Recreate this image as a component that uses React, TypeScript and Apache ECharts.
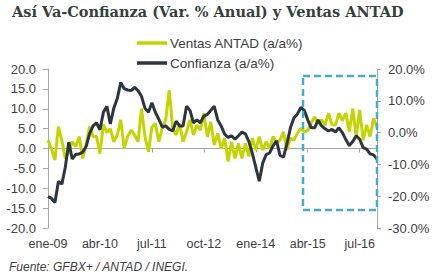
import React, { useEffect, useRef } from "react";
import * as echarts from "echarts";

const monthNames = ["ene", "feb", "mar", "abr", "may", "jun", "jul", "ago", "sep", "oct", "nov", "dic"];
const years = ["09", "10", "11", "12", "13", "14", "15", "16"];
const categories: string[] = [];
years.forEach((y) => monthNames.forEach((m) => categories.push(`${m}-${y}`)));

// Ventas ANTAD (a/a%), left axis
const ventas = [
  2.1, 0, -2.9, 5.5, 2, -2.5, -1, 1.7, 0.5, 3, -2.5, 1,
  5.5, 3, 3, -1.3, 6, 4, 5, 1.7, 3.4, 7.2, 0, 3,
  4.6, 3.4, 1.7, 10, 3, -0.8, 5.4, 6.3, 1.7, 5.1, 7.2, 14.7,
  5.1, 3.4, 6.3, 1.7, 4.2, 7.2, 3.4, 5.9, 4.6, 8.9, 3, 6.7,
  0.9, 3.8, 0, 2.6, -3.3, 1.7, -2.5, 1.3, -2.5, 1.3, -2, 2.6,
  -0.4, 3, -0.4, 1.7, 0, 3, 1.5, 2.1, 4.2, -0.4, 2.6, 2.1,
  3.8, 5.1, 4.2, 4.5, 6.5, 8, 6.3, 7.2, 5.9, 8.9, 6, 5.9,
  8.9, 7, 8.9, 4.2, 10.1, 3, 9.7, 2.1, 5.9, 3, 7.6, 5.5,
];

// Confianza (a/a%), right axis
const confianza = [
  -20.1, -20.7, -22.0, -15.4, -16.2, -10.9, -3.0, -8.3, -6.9, -6.7, -6.2, -4.4,
  -0.4, 2.1, 3.1, 0.9, 6.4, 8.3, 2.7, 7.7, 10.7, 15.8, 13.8, 13.4,
  13.2, 14.2, 13.2, 11.4, 7.7, 6.4, 9.4, 6.4, 4.2, 1.7, 2.1, 1.0,
  0.5, 3.6, 2.1, 2.1, 8.3, 7.0, 3.1, 4.0, 3.1, 5.2, 5.7, 7.0,
  8.3, 4.0, 2.1, -0.5, -1.5, -1.0, -2.1, -1.0, 0.2, -0.4, -2.8, -6.5,
  -10.9, -15.3, -9.6, -6.9, -6.4, -4.1, -2.6, -7.2, -7.7, -3.5, 1.5, 4.6,
  5.8, 7.9, 7.0, 4.0, 1.5, 1.5, 4.0, 2.1, 1.2, 0.5, 1.0, 0.2,
  1.5, 0.0, -2.2, -4.1, -2.8, -1.0, -2.1, -4.7, -5.2, -6.7, -7.0, -8.3,
];

const leftTicks = { min: -20, max: 20, interval: 5 };
const rightTicks = { min: -30, max: 20, interval: 10 };

const TITLE = "Así Va-Confianza (Var. % Anual) y Ventas ANTAD";
const SOURCE = "Fuente: GFBX+ / ANTAD / INEGI.";
const SANS = "'Liberation Sans', Arial, sans-serif";
const AXIS_GRAY = "#a6a6a6";
const TEXT = "#404040";

export default function App() {
  const ref = useRef<HTMLDivElement>(null);
  useEffect(() => {
    document.body.style.margin = "0";
    const chart = echarts.init(ref.current!, null, { renderer: "svg" });
    chart.setOption({
      animation: false,
      backgroundColor: "#ffffff",
      title: {
        text: TITLE,
        left: 12,
        top: 4,
        padding: 0,
        textStyle: { fontFamily: "'DejaVu Serif', Georgia, serif", fontWeight: "bold", fontSize: 14.5, color: "#34403b" },
      },
      legend: {
        orient: "vertical",
        left: 137,
        top: 36,
        padding: 0,
        itemGap: 6,
        itemWidth: 30,
        itemHeight: 3.5,
        icon: "rect",
        textStyle: { fontFamily: SANS, fontSize: 13.5, color: TEXT, padding: [0, 0, 0, -2] },
        data: ["Ventas ANTAD (a/a%)", "Confianza (a/a%)"],
      },
      grid: { left: 48, right: 61, top: 69, bottom: 52, containLabel: false },
      xAxis: [
        {
          type: "category",
          data: categories,
          boundaryGap: false,
          axisLine: { show: true, onZero: true, lineStyle: { color: AXIS_GRAY, width: 1 } },
          axisTick: { show: true, interval: 14, length: 4, lineStyle: { color: AXIS_GRAY } },
          axisLabel: { show: false },
          splitLine: { show: false },
        },
        {
          type: "category",
          data: categories,
          boundaryGap: false,
          position: "bottom",
          axisLine: { show: false, onZero: false },
          axisTick: { show: false },
          axisLabel: {
            interval: 14,
            margin: 9,
            fontFamily: SANS,
            fontSize: 12.5,
            color: TEXT,
          },
          splitLine: { show: false },
        },
      ],
      yAxis: [
        {
          type: "value",
          position: "left",
          ...leftTicks,
          axisLine: { show: true, lineStyle: { color: AXIS_GRAY } },
          axisTick: { show: true, length: 5, lineStyle: { color: AXIS_GRAY } },
          axisLabel: { margin: 12, fontFamily: SANS, fontSize: 13, color: TEXT, formatter: (v: number) => v.toFixed(1) },
          splitLine: { show: false },
        },
        {
          type: "value",
          position: "right",
          ...rightTicks,
          axisLine: { show: true, lineStyle: { color: AXIS_GRAY } },
          axisTick: { show: true, length: 4, lineStyle: { color: AXIS_GRAY } },
          axisLabel: { margin: 11, fontFamily: SANS, fontSize: 13, color: TEXT, formatter: (v: number) => v.toFixed(1) + "%" },
          splitLine: { show: false },
        },
      ],
      series: [
        {
          name: "Ventas ANTAD (a/a%)",
          type: "line",
          xAxisIndex: 0,
          yAxisIndex: 0,
          data: ventas,
          symbol: "none",
          lineStyle: { color: "#c3d500", width: 3 },
          itemStyle: { color: "#c3d500" },
        },
        {
          name: "Confianza (a/a%)",
          type: "line",
          xAxisIndex: 0,
          yAxisIndex: 1,
          data: confianza,
          symbol: "none",
          lineStyle: { color: "#2c3540", width: 3 },
          itemStyle: { color: "#2c3540" },
        },
      ],
      graphic: [
        {
          type: "rect",
          z: 100,
          shape: { x: 303, y: 76, width: 74, height: 134 },
          style: { fill: "none", stroke: "#45adc7", lineWidth: 2.5, lineDash: [7, 4] },
        },
        {
          type: "text",
          left: 9,
          top: 261,
          style: { text: SOURCE, fontFamily: SANS, fontStyle: "italic", fontSize: 12, fill: TEXT },
        },
      ],
    });
    return () => chart.dispose();
  }, []);
  return <div ref={ref} style={{ width: 438, height: 280 }} />;
}
